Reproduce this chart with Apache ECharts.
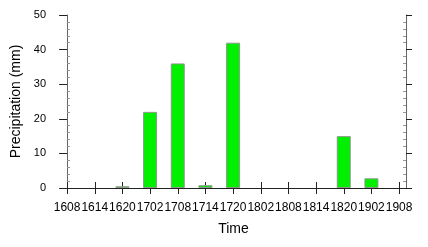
<!DOCTYPE html>
<html>
<head>
<meta charset="utf-8">
<script src="https://cdn.jsdelivr.net/npm/echarts@6/dist/echarts.min.js"></script>
<style>html,body{margin:0;padding:0;background:#fff}#c{width:428px;height:247px}</style>
</head>
<body>
<div id="c"></div>
<script>
const categories = ['1608','1614','1620','1702','1708','1714','1720','1802','1808','1814','1820','1902','1908'];
const precipitation = [0, 0, 0.5, 22, 36, 0.8, 42, 0, 0, 0, 15, 2.8, 0];
const yTicks = [0, 10, 20, 30, 40, 50];

const idx = categories.map((c, i) => i);
const barData = precipitation.map((v, i) => [i, v > 0 ? v : null]);
const font = 'Liberation Sans, Arial, Helvetica, sans-serif';

const chart = echarts.init(document.getElementById('c'), null, {renderer: 'canvas'});
const xBase = {
  type: 'value', min: -0.22, max: 12.25, gridIndex: 0,
  splitLine: {show: false},
  axisLine: {show: true, lineStyle: {color: '#222', width: 1}},
  axisTick: {show: true, inside: false, length: 6, customValues: idx, lineStyle: {color: '#222'}}
};
const yBase = {
  type: 'value', min: yTicks[0], max: yTicks[yTicks.length - 1], interval: 10,
  splitLine: {show: false},
  axisLine: {show: true, lineStyle: {color: '#666', width: 1}}
};
chart.setOption({
  animation: false,
  grid: {left: 61, right: 22, top: 15, bottom: 59, containLabel: false},
  xAxis: [
    Object.assign({}, xBase, {
      position: 'bottom',
      name: 'Time', nameLocation: 'middle', nameGap: 34,
      nameTextStyle: {fontFamily: font, fontSize: 14, color: '#000'},
      axisLabel: {show: true, margin: 14, fontFamily: font, fontSize: 12, color: '#000',
        customValues: idx, formatter: v => categories[Math.round(v)]}
    }),
    Object.assign({}, xBase, {position: 'top', axisLabel: {show: false}})
  ],
  yAxis: [
    Object.assign({}, yBase, {
      position: 'left',
      name: 'Precipitation (mm)', nameLocation: 'middle', nameGap: 38, nameRotate: 90,
      nameTextStyle: {fontFamily: font, fontSize: 14, color: '#000'},
      axisTick: {show: true, inside: false, length: 8, lineStyle: {color: '#222'}},
      axisLabel: {show: true, margin: 15, fontFamily: font, fontSize: 11, color: '#000'}
    }),
    Object.assign({}, yBase, {
      position: 'left', axisLine: {show: false}, axisLabel: {show: false},
      axisTick: {show: false, inside: true},
      minorTick: {show: true, splitNumber: 5, length: 3, lineStyle: {color: '#999'}}
    }),
    Object.assign({}, yBase, {
      position: 'right',
      axisTick: {show: true, inside: false, length: 6, lineStyle: {color: '#222'}},
      axisLabel: {show: false}
    }),
    Object.assign({}, yBase, {
      position: 'right', axisLine: {show: false}, axisLabel: {show: false},
      axisTick: {show: false, inside: true},
      minorTick: {show: true, splitNumber: 5, length: 3, lineStyle: {color: '#999'}}
    })
  ],
  series: [{
    type: 'bar', xAxisIndex: 0, yAxisIndex: 0,
    data: barData, barWidth: 14,
    itemStyle: {color: '#00f000', borderColor: '#8a9a8a', borderWidth: 1}
  }]
});
</script>
</body>
</html>
